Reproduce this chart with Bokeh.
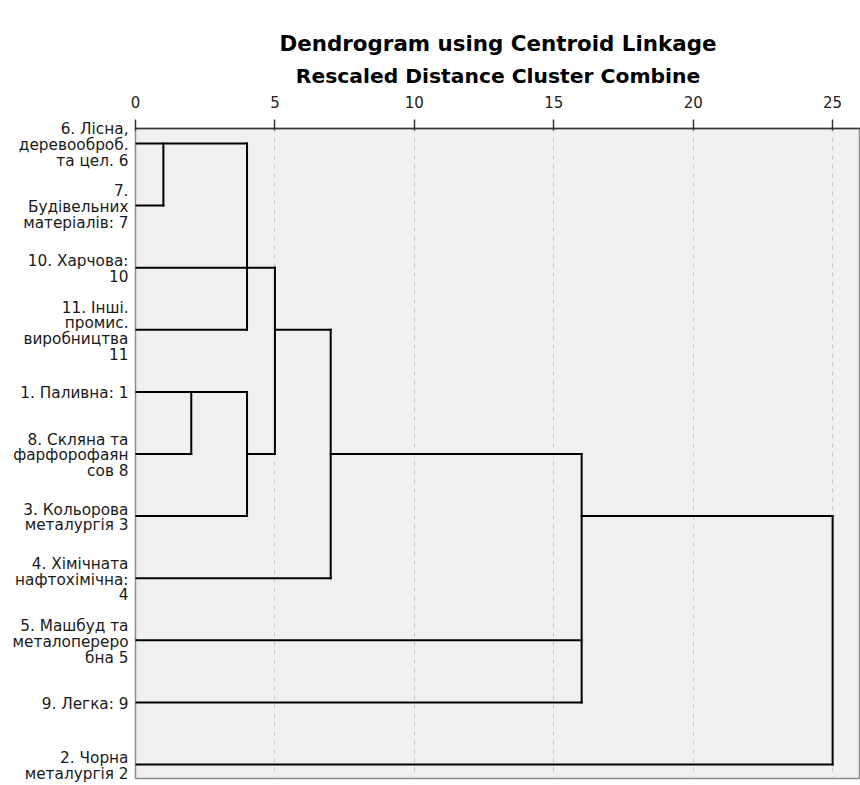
from bokeh.plotting import figure
from bokeh.models import (ColumnDataSource, LinearAxis, FixedTicker, Range1d, Title)
from bokeh.embed import file_html
from bokeh.resources import INLINE

# ---------------- data ----------------
leaf_labels = [
    "6. Лісна,\nдеревооброб.\nта цел. 6",
    "7.\nБудівельних\nматеріалів: 7",
    "10. Харчова:\n10",
    "11. Інші.\nпромис.\nвиробництва\n11",
    "1. Паливна: 1",
    "8. Скляна та\nфарфорофаян\nсов 8",
    "3. Кольорова\nметалургія 3",
    "4. Хімічната\nнафтохімічна:\n4",
    "5. Машбуд та\nметалопереро\nбна 5",
    "9. Легка: 9",
    "2. Чорна\nметалургія 2",
]

# vertical links: rescaled distance, top row, bottom row
link_dist = [1, 4, 2, 4, 5, 7, 16, 25]
link_top = [0, 0, 4, 4, 2, 3, 5, 6]
link_bot = [1, 3, 5, 6, 5, 7, 9, 10]

# horizontal branches: row, start distance, end distance
branch_row = [0, 1, 2, 3, 3, 4, 5, 5, 5, 6, 6, 7, 8, 9, 10]
branch_x0 = [0, 0, 0, 0, 5, 0, 0, 4, 7, 0, 16, 0, 0, 0, 0]
branch_x1 = [4, 1, 5, 4, 7, 4, 2, 5, 16, 4, 25, 7, 16, 16, 25]

tick_values = [0, 5, 10, 15, 20, 25]
title_text = "Dendrogram using Centroid Linkage"
subtitle_text = "Rescaled Distance Cluster Combine"

# ---------------- layout ----------------
W, H = 860, 785
BT, BB, BL = 128, 7, 135
FRAME_H = H - BT - BB
y_top, y_bot = -0.2415, len(leaf_labels) - 1 + 0.2254
ROW_PX = FRAME_H / (y_bot - y_top)
LINE_PX = 15.7
BLOCK_SHIFT_PX = 1.5

p = figure(width=W, height=H, output_backend="svg", toolbar_location=None,
           x_range=Range1d(0, 26.0), y_range=Range1d(y_bot, y_top),
           x_axis_location=None, y_axis_location=None,
           min_border_left=BL, min_border_right=0, min_border_top=BT,
           min_border_bottom=BB)
p.background_fill_color = "#f0f0f0"
p.border_fill_color = "white"
p.outline_line_color = "#8c8c8c"
p.outline_line_width = 1.5

p.xgrid.ticker = FixedTicker(ticks=tick_values[1:])
p.xgrid.grid_line_color = "#c4c4c4"
p.xgrid.grid_line_dash = "4 5"
p.xgrid.grid_line_width = 1
p.ygrid.visible = False

ax = LinearAxis(ticker=FixedTicker(ticks=tick_values))
ax.major_tick_out = 9
ax.major_tick_in = 2
ax.minor_tick_out = 0
ax.minor_tick_in = 0
ax.axis_line_color = "#333333"
ax.axis_line_width = 1.5
ax.major_tick_line_color = "#333333"
ax.major_tick_line_width = 1.5
ax.major_label_text_font = "DejaVu Sans"
ax.major_label_text_font_size = "15px"
ax.major_label_text_color = "#222222"
ax.major_label_standoff = 12
p.add_layout(ax, "above")

# leaf labels: one tick per text line, block centred on the leaf row
ly, lt = [], []
for r, lab in enumerate(leaf_labels):
    lines = lab.split("\n")
    n = len(lines)
    for k, line in enumerate(lines):
        off_px = (k - (n - 1) / 2) * LINE_PX + BLOCK_SHIFT_PX
        ly.append(round(r + off_px / ROW_PX, 6))
        lt.append(line)
yax = LinearAxis(ticker=FixedTicker(ticks=ly))
yax.major_label_overrides = {y: t for y, t in zip(ly, lt)}
yax.major_tick_out = 0
yax.major_tick_in = 0
yax.minor_tick_out = 0
yax.minor_tick_in = 0
yax.axis_line_color = None
yax.major_label_standoff = 7
yax.major_label_text_font = "DejaVu Sans"
yax.major_label_text_font_size = "15.3px"
yax.major_label_text_color = "#1a1a1a"
p.add_layout(yax, "left")

# dendrogram lines
vsrc = ColumnDataSource(dict(x=link_dist, y0=link_top, y1=link_bot))
p.segment(x0="x", y0="y0", x1="x", y1="y1", source=vsrc,
          line_color="black", line_width=2, line_cap="square")
hsrc = ColumnDataSource(dict(y=branch_row, x0=branch_x0, x1=branch_x1))
p.segment(x0="x0", y0="y", x1="x1", y1="y", source=hsrc,
          line_color="black", line_width=2, line_cap="square")

# titles (first added sits nearest the plot)
p.add_layout(Title(text=subtitle_text, align="center", text_font="DejaVu Sans",
                   text_font_style="bold", text_font_size="20.3px",
                   text_color="black", standoff=10, offset=5), "above")
p.add_layout(Title(text=title_text, align="center", text_font="DejaVu Sans",
                   text_font_style="bold", text_font_size="21.4px",
                   text_color="black", standoff=1, offset=5), "above")

open("out.html", "w").write(file_html(p, INLINE))
